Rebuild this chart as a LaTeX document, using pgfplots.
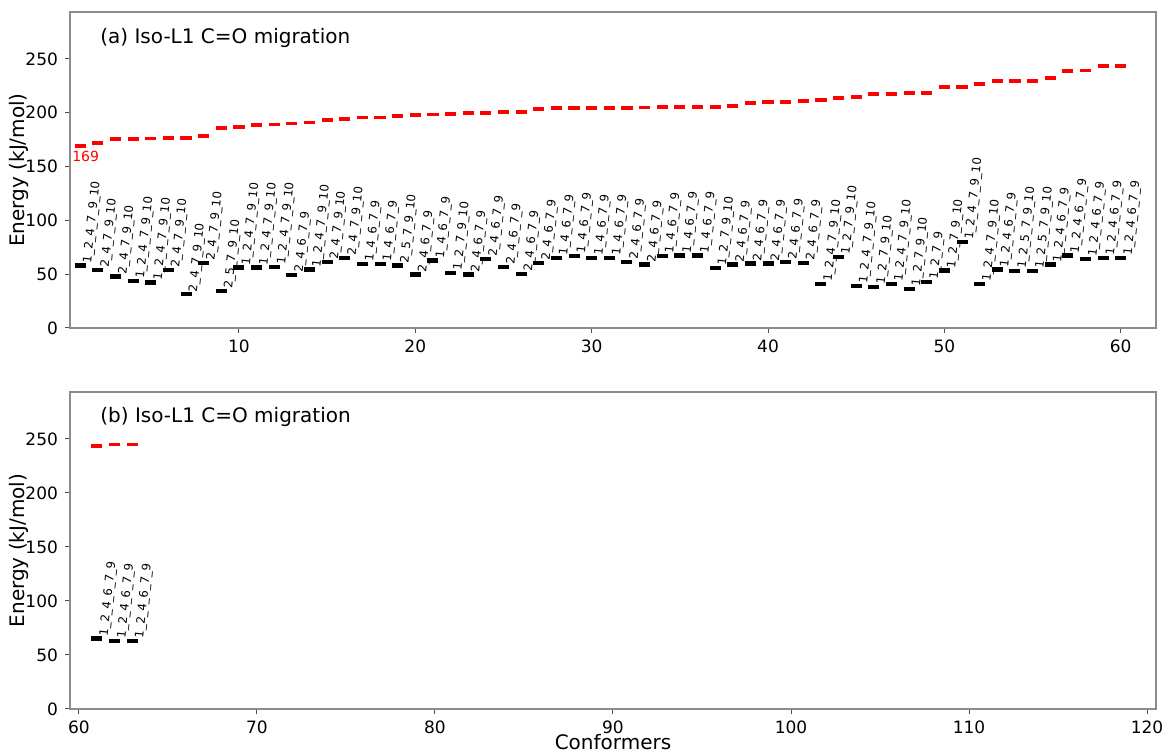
\documentclass[border=0pt]{standalone}
\usepackage{pgfplots}
\pgfplotsset{compat=1.18}
\usepackage{graphicx}
\usepackage{fontspec}
\setmainfont{DejaVu Sans}
\definecolor{spine}{gray}{0.55}
\pgfplotsset{
  panel/.style={
    scale only axis, width=543pt, anchor=south west,
    ymin=0, ymax=293.5, ytick={0,50,...,250},
    axis line style={spine, line width=0.7pt},
    tick align=outside, xtick pos=bottom, ytick pos=left,
    major tick length=2.5pt,
    tick style={black!70, line width=0.5pt},
    tick label style={font=\fontsize{8.5}{10}\selectfont},
    /pgf/number format/assume math mode=true,
    label style={font=\fontsize{10}{12}\selectfont},
    ylabel={Energy (kJ/mol)},
    ylabel style={yshift=-8.5pt},
  },
  reddash/.style={only marks, mark=-, mark size=2.8pt, color=red, mark options={line width=1.9pt}},
  blackdash/.style={only marks, mark=-, mark size=2.75pt, color=black, mark options={line width=2.1pt},
    point meta=explicit symbolic,
    nodes near coords={\rotatebox{84}{\pgfplotspointmeta}},
    every node near coord/.append style={anchor=south west, inner sep=0pt, font=\fontsize{5.9}{6.5}\selectfont, text=black}},
}
\begin{document}
\begin{tikzpicture}[x=1pt,y=1pt]
\useasboundingbox (0,0) rectangle (586,376.5);
\begin{axis}[panel, at={(35pt,212.5pt)}, height=158pt,
  xmin=0.42, xmax=62, xtick={10,20,...,60}]
\addplot[reddash] coordinates {
(1,169.1) (2,171.6) (3,175.3) (4,175.6) (5,176.0) (6,176.2) (7,176.6) (8,178.4) (9,185.9) (10,187.0)
(11,188.4) (12,189.0) (13,190.0) (14,190.8) (15,193.0) (16,194.2) (17,195.5) (18,195.5) (19,197.0) (20,197.6)
(21,198.3) (22,198.5) (23,199.5) (24,200.0) (25,200.7) (26,200.9) (27,203.2) (28,204.0) (29,204.0) (30,204.1)
(31,204.3) (32,204.5) (33,204.7) (34,205.0) (35,205.3) (36,205.3) (37,205.4) (38,205.9) (39,208.7) (40,209.9)
(41,209.9) (42,210.5) (43,212.0) (44,213.3) (45,214.8) (46,217.0) (47,217.6) (48,218.2) (49,218.5) (50,223.5)
(51,224.1) (52,226.6) (53,229.4) (54,229.4) (55,229.6) (56,232.1) (57,238.9) (58,239.2) (59,243.0) (60,243.0)
};
\addplot[blackdash] coordinates {
(1,58.0) [1\_2\_4\_7\_9\_10]
(2,53.7) [2\_4\_7\_9\_10]
(3,47.9) [2\_4\_7\_9\_10]
(4,43.5) [1\_2\_4\_7\_9\_10]
(5,42.3) [1\_2\_4\_7\_9\_10]
(6,53.7) [2\_4\_7\_9\_10]
(7,31.2) [2\_4\_7\_9\_10]
(8,60.5) [2\_4\_7\_9\_10]
(9,34.3) [2\_5\_7\_9\_10]
(10,56.2) [1\_2\_4\_7\_9\_10]
(11,56.2) [1\_2\_4\_7\_9\_10]
(12,56.8) [1\_2\_4\_7\_9\_10]
(13,49.0) [2\_4\_6\_7\_9]
(14,54.4) [1\_2\_4\_7\_9\_10]
(15,61.1) [2\_4\_7\_9\_10]
(16,65.2) [2\_4\_7\_9\_10]
(17,59.6) [1\_4\_6\_7\_9]
(18,59.6) [1\_4\_6\_7\_9]
(19,58.0) [2\_5\_7\_9\_10]
(20,49.7) [2\_4\_6\_7\_9]
(21,62.7) [1\_4\_6\_7\_9]
(22,51.3) [1\_2\_7\_9\_10]
(23,49.7) [2\_4\_6\_7\_9]
(24,64.2) [2\_4\_6\_7\_9]
(25,56.5) [2\_4\_6\_7\_9]
(26,50.3) [2\_4\_6\_7\_9]
(27,60.5) [2\_4\_6\_7\_9]
(28,65.2) [1\_4\_6\_7\_9]
(29,66.7) [1\_4\_6\_7\_9]
(30,65.2) [1\_4\_6\_7\_9]
(31,65.2) [1\_4\_6\_7\_9]
(32,61.5) [2\_4\_6\_7\_9]
(33,59.0) [2\_4\_6\_7\_9]
(34,66.7) [1\_4\_6\_7\_9]
(35,67.3) [1\_4\_6\_7\_9]
(36,67.3) [1\_4\_6\_7\_9]
(37,55.9) [1\_2\_7\_9\_10]
(38,59.0) [2\_4\_6\_7\_9]
(39,59.9) [2\_4\_6\_7\_9]
(40,59.9) [2\_4\_6\_7\_9]
(41,61.1) [2\_4\_6\_7\_9]
(42,60.5) [2\_4\_6\_7\_9]
(43,40.5) [1\_2\_4\_7\_9\_10]
(44,65.8) [1\_2\_7\_9\_10]
(45,38.9) [1\_2\_4\_7\_9\_10]
(46,38.3) [1\_2\_7\_9\_10]
(47,40.5) [1\_2\_4\_7\_9\_10]
(48,36.5) [1\_2\_7\_9\_10]
(49,42.6) [1\_2\_7\_9]
(50,53.4) [1\_2\_7\_9\_10]
(51,79.6) [1\_2\_4\_7\_9\_10]
(52,40.5) [1\_2\_4\_7\_9\_10]
(53,54.4) [1\_2\_4\_6\_7\_9]
(54,52.8) [1\_2\_5\_7\_9\_10]
(55,52.8) [1\_2\_5\_7\_9\_10]
(56,59.0) [1\_2\_4\_6\_7\_9]
(57,67.3) [1\_2\_4\_6\_7\_9]
(58,64.2) [1\_2\_4\_6\_7\_9]
(59,65.2) [1\_2\_4\_6\_7\_9]
(60,65.2) [1\_2\_4\_6\_7\_9]
};
\node[anchor=west, inner sep=0pt, font=\fontsize{10}{12}\selectfont] at (rel axis cs:0.0276,0.918) {(a) Iso-L1 C=O migration};
\node[anchor=west, inner sep=0pt, text=red, font=\fontsize{7}{8}\selectfont] at (axis cs:0.53,159.4) {169};
\end{axis}
\begin{axis}[panel, at={(35pt,22pt)}, height=158.5pt,
  xmin=59.5, xmax=120.5, xtick={60,70,...,120}, xlabel={Conformers}, xlabel style={yshift=6.5pt}]
\addplot[reddash] coordinates {(61,243.6) (62,244.8) (63,244.8)};
\addplot[blackdash] coordinates {
(61,65.2) [1\_2\_4\_6\_7\_9]
(62,63.3) [1\_2\_4\_6\_7\_9]
(63,63.3) [1\_2\_4\_6\_7\_9]
};
\node[anchor=west, inner sep=0pt, font=\fontsize{10}{12}\selectfont] at (rel axis cs:0.0276,0.921) {(b) Iso-L1 C=O migration};
\end{axis}
\end{tikzpicture}
\end{document}
